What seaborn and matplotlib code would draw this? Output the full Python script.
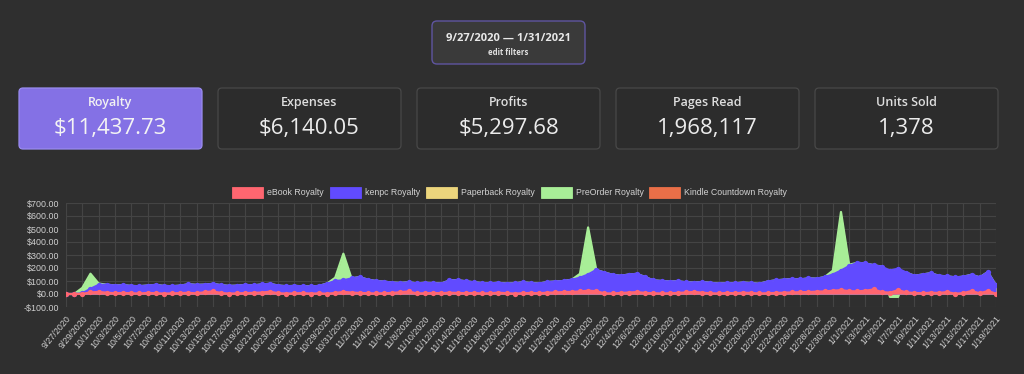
import matplotlib

matplotlib.use("Agg")
import matplotlib.pyplot as plt
import numpy as np
import pandas as pd
import seaborn as sns
from matplotlib.patches import FancyBboxPatch, Rectangle


BG = "#2f2f2f"
GRID = "#444444"
TICK_TEXT = "#cfcfcf"

DATE_RANGE_TEXT = "9/27/2020 \u2014 1/31/2021"
CARD_TITLES = ["Royalty", "Expenses", "Profits", "Pages Read", "Units Sold"]
CARD_VALUES = ["$11,437.73", "$6,140.05", "$5,297.68", "1,968,117", "1,378"]

SERIES_NAMES = ["eBook Royalty", "kenpc Royalty", "Paperback Royalty", "PreOrder Royalty", "Kindle Countdown Royalty"]
SERIES_COLORS = ["#ff6670", "#614bff", "#ecd57c", "#a8ee97", "#ea6f48"]

dates = pd.date_range("2020-09-27", "2021-01-19", freq="D")

ebook_royalty = [
    0, 0, 1, 12, 16, 10, 6, 8, 6, 4,
    8, 6, 3, 5, 7, 9, 5, 14, 20, 8,
    3, 5, 7, 9, 11, 18, 6, 3, 5, 7,
    3, 5, 2, 8, 16, 11, 8, 6, 4, 6,
    8, 14, 20, 4, 6, 8, 6, 10, 8, 6,
    8, 4, 6, 10, 6, 3, 6, 8, 6, 10,
    12, 15, 16, 20, 25, 22, 5, 4, 8, 11,
    15, 8, 6, 4, 6, 8, 12, 16, 10, 6,
    4, 8, 6, 10, 8, 4, 6, 8, 10, 12,
    14, 15, 18, 20, 25, 30, 22, 20, 25, 35,
    15, 10, 30, 12, 8, 6, 10, 8, 15, 2,
    7, 23, 5, 23, 2,
]
kenpc_royalty = [
    0, 0, 4, 28, 54, 62, 59, 60, 56, 56,
    57, 64, 59, 55, 57, 66, 65, 58, 58, 60,
    59, 59, 63, 57, 63, 60, 59, 57, 57, 53,
    55, 57, 78, 92, 89, 109, 122, 104, 96, 89,
    80, 71, 70, 78, 80, 76, 74, 94, 98, 92,
    82, 80, 76, 76, 74, 79, 84, 76, 74, 82,
    84, 85, 94, 105, 125, 163, 160, 144, 132, 139,
    140, 122, 99, 96, 90, 90, 78, 72, 82, 80,
    76, 76, 76, 78, 76, 74, 90, 97, 100, 103,
    98, 105, 100, 110, 125, 150, 193, 220, 210, 187,
    195, 170, 165, 153, 132, 144, 150, 132, 121, 126,
    126, 125, 123, 146, 64,
]
paperback_royalty = [0] * len(dates)
preorder_royalty = [
    0, 0, 42, 116, 10, 0, 0, 0, 0, 0,
    0, 0, 0, 0, 0, 0, 0, 0, 0, 0,
    0, 0, 0, 0, 0, 0, 0, 0, 0, 0,
    0, 0, 0, 25, 205, 0, 0, 0, 0, 0,
    0, 0, 0, 0, 0, 0, 0, 0, 0, 0,
    0, 0, 0, 0, 0, 0, 0, 0, 0, 0,
    0, 0, 0, 30, 362, 0, 0, 0, 0, 0,
    0, 0, 0, 0, 0, 0, 0, 0, 0, 0,
    0, 0, 0, 0, 0, 0, 0, 0, 0, 0,
    0, 0, 0, 0, 30, 451, 10, 0, 0, 0,
    0, -22, -22, 0, 0, 0, 0, 0, 0, 0,
    0, 0, 0, 0, 0,
]
kindle_countdown_royalty = [0] * len(dates)

Y_TICKS = [-100, 0, 100, 200, 300, 400, 500, 600, 700]


def money(value: float) -> str:
    return f"-${abs(value):,.2f}" if value < 0 else f"${value:,.2f}"


df = pd.DataFrame(
    {
        "date": dates,
        "ebook": ebook_royalty,
        "kenpc": kenpc_royalty,
        "paperback": paperback_royalty,
        "preorder": preorder_royalty,
        "kindle": kindle_countdown_royalty,
    }
)
# chart.js style stacking: positives pile up, negatives stack down from zero
df["top_ebook"] = df["ebook"]
df["top_kenpc"] = df["top_ebook"] + df["kenpc"]
df["top_paperback"] = df["top_kenpc"] + df["paperback"]
df["top_preorder"] = np.where(df["preorder"] >= 0, df["top_paperback"] + df["preorder"], df["preorder"])
df["top_kindle"] = np.where(df["preorder"] >= 0, df["top_preorder"], df["top_paperback"]) + df["kindle"]

sns.set_theme(style="dark", rc={"axes.facecolor": BG, "figure.facecolor": BG})
plt.rcParams["font.family"] = ["Liberation Sans", "DejaVu Sans"]
CARD_FONT = ["Open Sans", "DejaVu Sans"]

W, H = 1024, 374
fig = plt.figure(figsize=(W / 100, H / 100), dpi=100, facecolor=BG)

# overlay in pixel coordinates for header, cards and legend
overlay = fig.add_axes([0, 0, 1, 1])
overlay.set_xlim(0, W)
overlay.set_ylim(H, 0)
overlay.axis("off")

overlay.add_patch(
    FancyBboxPatch((432, 21), 153, 43, boxstyle="round,pad=0,rounding_size=5",
                   facecolor="#3a3a3a", edgecolor="#5f55a0", linewidth=1.0)
)
overlay.text(508.5, 38, DATE_RANGE_TEXT, ha="center", va="center", fontsize=8, fontweight="bold",
             color="#e8e8e8", family=CARD_FONT)
overlay.text(508.5, 52, "edit filters", ha="center", va="center", fontsize=5.6, fontweight="bold",
             color="#e0e0e0", family=CARD_FONT)

card_left = [19, 218, 417, 616, 815]
for i, (title, value) in enumerate(zip(CARD_TITLES, CARD_VALUES)):
    x0 = card_left[i]
    active = i == 0
    overlay.add_patch(
        FancyBboxPatch((x0, 88), 183, 61, boxstyle="round,pad=0,rounding_size=4",
                       facecolor="#8471e5" if active else "#2c2c2c",
                       edgecolor="#9a8cf0" if active else "#484848", linewidth=0.9)
    )
    overlay.text(x0 + 91.5, 102, title, ha="center", va="center", fontsize=9, fontweight="semibold",
                 color="#f2f2f2" if active else "#dedede", family=CARD_FONT)
    overlay.text(x0 + 91.5, 128, value, ha="center", va="center", fontsize=16, fontweight="medium",
                 color="#f4f4f4" if active else "#ececec", family=CARD_FONT)

legend_boxes = [232, 330, 426, 541, 649]
for name, color, x0 in zip(SERIES_NAMES, SERIES_COLORS, legend_boxes):
    overlay.add_patch(Rectangle((x0, 186.5), 31, 11, facecolor=color, edgecolor=color, linewidth=0.6))
    overlay.text(x0 + 35, 192, name, ha="left", va="center", fontsize=6.3, color="#d2d2d2")

# chart area
x_left, x_right, y_top, y_bottom = 66, 996, 203, 307
ax = fig.add_axes([x_left / W, (H - y_bottom) / H, (x_right - x_left) / W, (y_bottom - y_top) / H])
ax.set_facecolor(BG)
ax.set_axisbelow(True)

# drawn last dataset first, each fill followed by its own line so later fills cover it
layers = [
    ("top_kindle", SERIES_COLORS[4], False, False),
    ("top_preorder", SERIES_COLORS[3], True, False),
    ("top_paperback", SERIES_COLORS[2], False, False),
    ("top_kenpc", SERIES_COLORS[1], True, True),
    ("top_ebook", SERIES_COLORS[0], True, True),
]
for k, (column, color, show_line, show_points) in enumerate(layers):
    z = 2 + 2 * k
    ax.fill_between(df["date"], 0, df[column], color=color, linewidth=0, zorder=z)
    if show_line:
        sns.lineplot(
            data=df, x="date", y=column, color=color, linewidth=1.6,
            marker="o" if show_points else None, markersize=3.8, markeredgewidth=0,
            ax=ax, zorder=z + 1,
        )

ax.set_xlim(dates[0], dates[-1])
ax.set_ylim(-100, 700)
tick_dates = dates[::2]
ax.set_xticks(tick_dates)
ax.set_xticklabels([f"{d.month}/{d.day}/{d.year}" for d in tick_dates], rotation=50,
                   ha="right", va="top", rotation_mode="anchor")
ax.set_yticks(Y_TICKS)
ax.set_yticklabels([money(v) for v in Y_TICKS])
ax.tick_params(axis="both", length=3.6, width=0.8, color=GRID, labelcolor=TICK_TEXT, labelsize=6.4, pad=1.5)
ax.grid(True, color=GRID, linewidth=0.8)
ax.set_xlabel("")
ax.set_ylabel("")
for spine in ax.spines.values():
    spine.set_visible(False)

fig.savefig("out.png", dpi=100, facecolor=BG)
plt.close(fig)
